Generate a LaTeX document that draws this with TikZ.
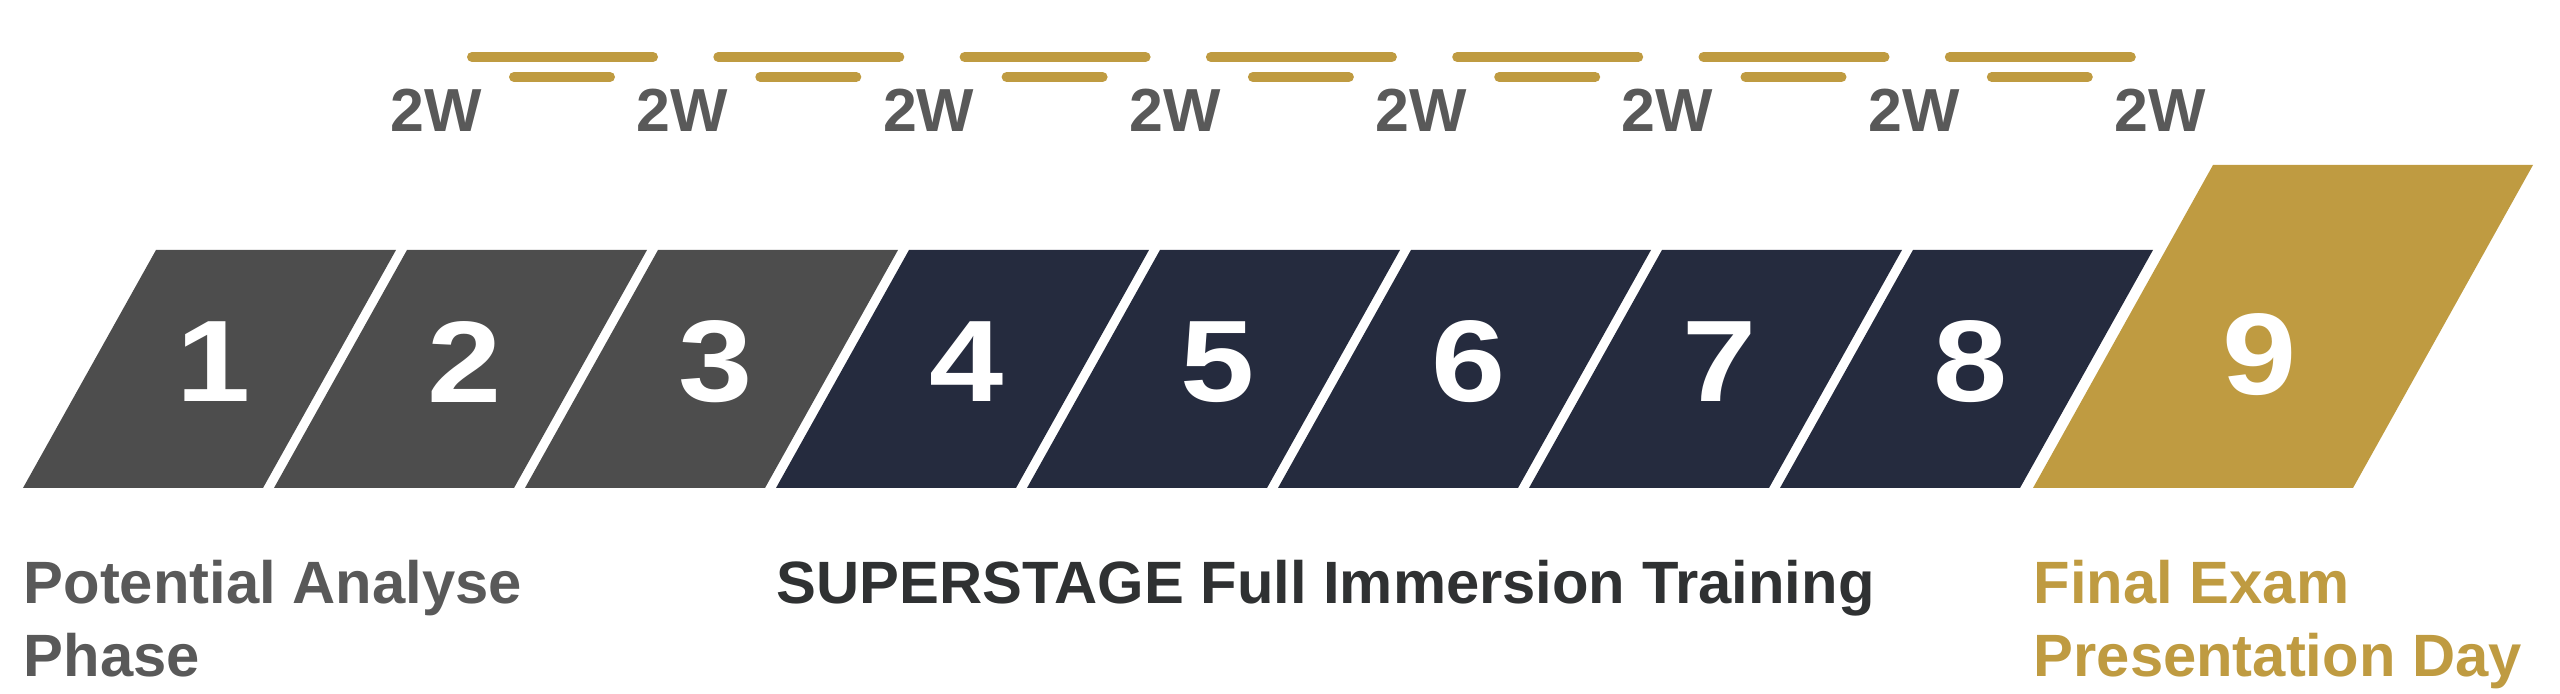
\documentclass[tikz,border=0pt]{standalone}
\usepackage{fontspec}
\setmainfont{Liberation Sans}
\usepackage{xcolor}
\usepackage{tikz}
\usetikzlibrary{calc}
\definecolor{stagegrey}{HTML}{4D4D4D}
\definecolor{stagenavy}{HTML}{252B3E}
\definecolor{stagegold}{HTML}{BF9B41}
\definecolor{labelgrey}{HTML}{595959}
\definecolor{labeldark}{HTML}{2F3132}
\tikzset{
  stepnum/.style={text=white, inner sep=0, xscale=1.15,
    font=\fontsize{33}{36}\selectfont\bfseries},
  weeklbl/.style={text=labelgrey, inner sep=0,
    font=\fontsize{17.3}{20.5}\selectfont\bfseries},
  phaselbl/.style={inner sep=0, anchor=north west, align=left,
    font=\fontsize{17}{20.5}\selectfont\bfseries},
  weekbar/.style={stagegold, line width=1mm, line cap=round}
}

\begin{document}
\begin{tikzpicture}
\useasboundingbox (0,0) rectangle (25.6,6.94);
% two-week bars and labels
\foreach \k in {0,...,6} {
 \draw[weekbar] (4.72+\k*2.463,6.37) --++(1.81,0);
 \draw[weekbar] (5.14+\k*2.463,6.17) --++(0.96,0);
};
\foreach \k in {0,...,7} {
 \node[weeklbl] (week\k) at (4.36+\k*2.463,5.835) {2W};
};
% steps 1-8
\foreach \i in {1,...,8} {
 \pgfmathsetmacro{\bx}{0.23+(\i-1)*2.51}
 \ifnum\i<4 \def\stepcol{stagegrey}\else \def\stepcol{stagenavy}\fi
 \fill[\stepcol] (\bx,2.06) --++(2.4,0) --++(1.33,2.38) --++(-2.4,0) -- cycle;
 \node[stepnum] (step\i) at (\bx+1.904,3.32) {\i};
};
% final step
\fill[stagegold] (20.33,2.06) --++(3.2,0) --++(1.8,3.23) --++(-3.2,0) -- cycle;
\node[stepnum] (step9) at (22.60,3.39) {9};
% phase labels
\node[phaselbl, text=labelgrey] (potential) at (0.23,1.34) {Potential Analyse\\Phase};
\node[phaselbl, text=labeldark] (superstage) at (7.76,1.34) {SUPERSTAGE Full Immersion Training};
\node[phaselbl, text=stagegold] (finalexam) at (20.33,1.34) {Final Exam\\Presentation Day};
\end{tikzpicture}
\end{document}
